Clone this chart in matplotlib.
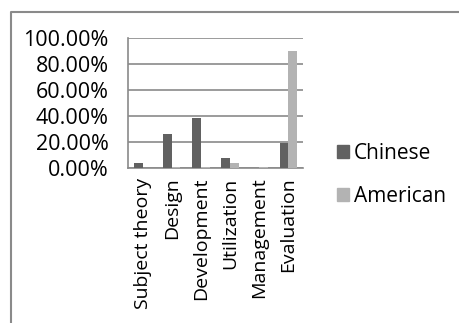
import matplotlib
matplotlib.use('Agg')
import matplotlib.pyplot as plt
from matplotlib.patches import Patch
from matplotlib.lines import Line2D
import numpy as np

categories = ['Subject theory', 'Design', 'Development', 'Utilization', 'Management', 'Evaluation']
chinese = [4.0, 26.0, 38.5, 8.0, 0.0, 19.0]
american = [0.0, 1.0, 1.0, 4.0, 1.0, 90.0]
yticks = [0, 20, 40, 60, 80, 100]

plt.rcParams.update({'font.family': 'Open Sans', 'font.size': 14})

W, H = 460, 323
fig = plt.figure(figsize=(W / 100., H / 100.), dpi=100)
ax = fig.add_axes([128 / W, 1 - 168 / H, 175 / W, 130 / H])

x = np.arange(len(categories))
bw = 0.3
ax.bar(x - bw / 2, chinese, bw, color='#616161', label='Chinese', zorder=3)
ax.bar(x + bw / 2, american, bw, color='#b3b3b3', label='American', zorder=3)

ax.set_xlim(-0.5, len(categories) - 0.5)
ax.set_ylim(0, 100)
ax.set_yticks(yticks)
ax.set_yticklabels(['%.2f%%' % v for v in yticks], fontsize=15.5)
ax.set_xticks(x)
ax.set_xticklabels(categories, rotation=90, va='top', ha='center')
ax.tick_params(axis='x', length=0, pad=7)
ax.tick_params(axis='y', length=0, pad=14)
ax.yaxis.grid(True, color='#8a8a8a', linewidth=1.2, zorder=0)
for side in ['right', 'top']:
    ax.spines[side].set_visible(False)
for side in ['left', 'bottom']:
    ax.spines[side].set_color('#8a8a8a')
    ax.spines[side].set_linewidth(1.2)

handles = [Patch(color='#616161'), Patch(color='#b3b3b3')]
fig.legend(handles, ['Chinese', 'American'], loc='upper left',
           bbox_to_anchor=(337 / W, 1 - 143 / H), frameon=False, fontsize=15,
           handlelength=0.6, handleheight=0.6, handletextpad=0.2,
           labelspacing=1.05, borderaxespad=0, borderpad=0)

# outer chart frame (top and left edges)
fig.add_artist(Line2D([11 / W, 11 / W, 1.0], [0.0, 1 - 12 / H, 1 - 12 / H],
                      transform=fig.transFigure, color='#8a8a8a', linewidth=1.5))

fig.savefig('out.png', dpi=100)
